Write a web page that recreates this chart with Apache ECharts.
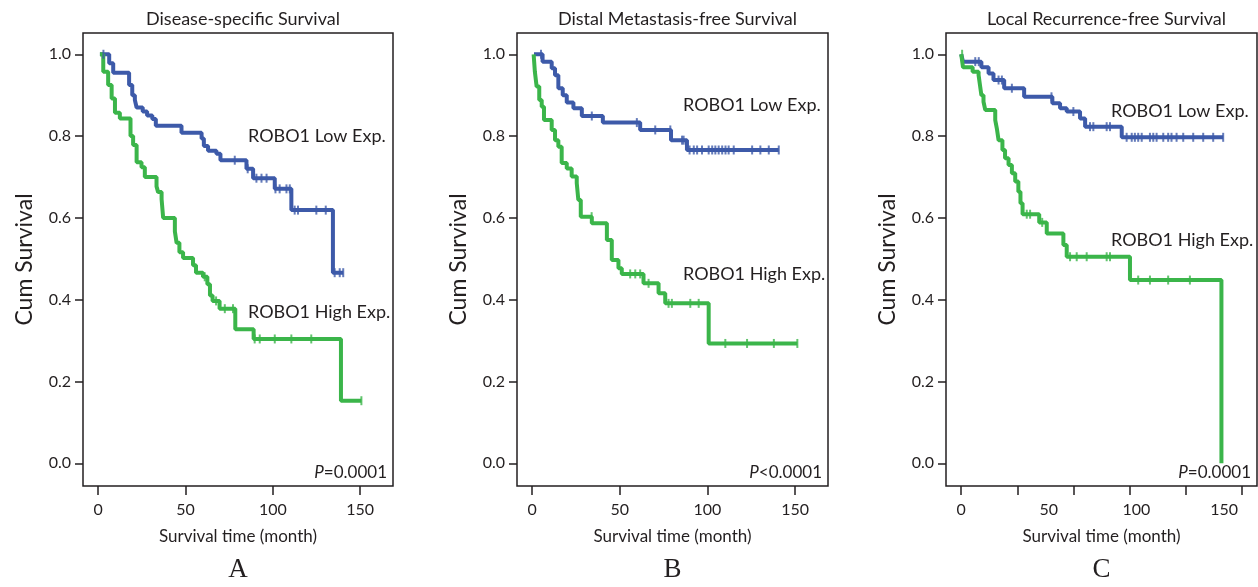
<!DOCTYPE html>
<html>
<head>
<meta charset="utf-8">
<script src="https://cdn.jsdelivr.net/npm/echarts@6/dist/echarts.min.js"></script>
<style>
  html, body { margin: 0; padding: 0; background: #fff; }
  #chart { width: 1258px; height: 587px; }
</style>
</head>
<body>
<div id="chart"></div>
<script>
const blue = '#3d5aa9'
const green = '#3bb54a'
const ink = '#231f20'
const font = 'Lato, "Open Sans", sans-serif'

// A: Disease-specific Survival
const dssLowTime = [1, 6.3, 8.6, 17.7, 19.5, 21, 22, 25.5, 28, 31, 33, 47.7, 59.2, 60.5, 62.9, 67.7, 70, 84.9, 88.7, 101.1, 110.6, 134.4, 140.3]
const dssLowSurv = [1.0, 0.978, 0.955, 0.925, 0.90, 0.888, 0.87, 0.86, 0.85, 0.842, 0.825, 0.808, 0.794, 0.776, 0.764, 0.757, 0.741, 0.72, 0.697, 0.671, 0.619, 0.466, 0.466]
const dssLowCens = [3, 78.2, 85.6, 90.6, 93.5, 96.4, 101.5, 103.9, 107.8, 109.7, 112.5, 114.4, 124.9, 130.3, 135.4, 138.3, 140.3]
const dssHighTime = [1, 2.9, 5.7, 7.7, 9.6, 12.4, 18.5, 20, 22, 24.8, 26.7, 33.4, 34.3, 36.3, 37.2, 43.9, 44.9, 46.5, 48.6, 54.3, 56, 60, 62.5, 64, 65.5, 69.5, 78.5, 89, 139, 150.7]
const dssHighSurv = [1.0, 0.957, 0.925, 0.892, 0.857, 0.843, 0.80, 0.778, 0.736, 0.724, 0.70, 0.677, 0.663, 0.646, 0.600, 0.567, 0.539, 0.516, 0.502, 0.484, 0.466, 0.456, 0.438, 0.41, 0.397, 0.378, 0.328, 0.304, 0.153, 0.153]
const dssHighCens = [61, 67.5, 72.5, 77.2, 89.6, 92.5, 101.1, 110.6, 122, 150.7]

// B: Distal Metastasis-free Survival
const dmfsLowTime = [1, 5.9, 11.1, 13, 14.9, 17.4, 19.7, 23.5, 28.3, 40.3, 61.6, 79.2, 88.3, 140.7]
const dmfsLowSurv = [1.0, 0.982, 0.966, 0.949, 0.917, 0.90, 0.882, 0.868, 0.849, 0.833, 0.815, 0.79, 0.766, 0.766]
const dmfsLowCens = [5, 34, 59.7, 70.2, 78.8, 85.5, 86.4, 89.8, 92.2, 94.1, 96.9, 100.7, 102.7, 104.5, 106.4, 108.4, 110.3, 112.1, 115, 125.5, 130.2, 135, 140.7]
const dmfsHighTime = [0.8, 1.5, 2.5, 4, 5.4, 6.7, 11.1, 13, 14.9, 16.8, 19.7, 22.5, 25.4, 26.3, 27.7, 34, 42.6, 45.4, 49.2, 51.1, 63.5, 72.1, 75.9, 100.7, 151.3]
const dmfsHighSurv = [1.0, 0.957, 0.921, 0.888, 0.872, 0.839, 0.815, 0.79, 0.774, 0.734, 0.721, 0.701, 0.685, 0.644, 0.603, 0.587, 0.546, 0.497, 0.477, 0.463, 0.44, 0.416, 0.391, 0.293, 0.293]
const dmfsHighCens = [33.9, 55.9, 58.8, 61.6, 66.4, 77.8, 79.7, 90.2, 95, 110.2, 122.6, 137.9, 151.3]

// C: Local Recurrence-free Survival
const lrfsLowTime = [0, 1, 11.5, 15.6, 18.4, 24.5, 35.9, 52, 56.4, 60.2, 67.8, 70.7, 91.6, 149.5]
const lrfsLowSurv = [1.0, 0.982, 0.968, 0.953, 0.937, 0.917, 0.896, 0.880, 0.868, 0.860, 0.843, 0.823, 0.797, 0.797]
const lrfsLowCens = [8, 10, 21.3, 23.2, 28.9, 51.5, 64, 73.5, 75.4, 83, 84.9, 94.4, 97.3, 99.1, 101, 103, 107.7, 109.6, 111.5, 115.3, 118.1, 120, 122.9, 126.7, 132.4, 138.1, 143.8, 149.5]
const lrfsHighTime = [0, 1, 6.5, 9.9, 10.8, 11.5, 12.7, 13.7, 19.4, 20.3, 21.3, 23.5, 25, 27, 28.9, 30.8, 32.6, 33.8, 35, 44.5, 48.8, 58.3, 60.2, 96.3, 148.5]
const lrfsHighSurv = [1.0, 0.968, 0.957, 0.949, 0.921, 0.90, 0.884, 0.864, 0.839, 0.819, 0.79, 0.766, 0.746, 0.729, 0.709, 0.689, 0.664, 0.636, 0.609, 0.589, 0.562, 0.534, 0.505, 0.448, 0.0]
const lrfsHighCens = [0.5, 37.4, 39.3, 46.2, 62.1, 65.9, 71.6, 83, 84.9, 101, 107.7, 118.1, 130.5]

// axis ticks / labels
const yTicks = [0, 0.2, 0.4, 0.6, 0.8, 1.0]
const xLabels = [0, 50, 100, 150]
const xTicksC = [0, 32, 64, 96, 128, 160]

const panels = [
    { title: 'Disease-specific Survival', letter: 'A', left: 83, width: 310, p: '=0.0001',
      low: [dssLowTime, dssLowSurv, dssLowCens], high: [dssHighTime, dssHighSurv, dssHighCens],
      lowLbl: [248, 136], highLbl: [248, 312], xTicks: xLabels },
    { title: 'Distal Metastasis-free Survival', letter: 'B', left: 517, width: 311, p: '<0.0001',
      low: [dmfsLowTime, dmfsLowSurv, dmfsLowCens], high: [dmfsHighTime, dmfsHighSurv, dmfsHighCens],
      lowLbl: [683, 105], highLbl: [683, 274], xTicks: xLabels },
    { title: 'Local Recurrence-free Survival', letter: 'C', left: 946, width: 311, p: '=0.0001',
      low: [lrfsLowTime, lrfsLowSurv, lrfsLowCens], high: [lrfsHighTime, lrfsHighSurv, lrfsHighCens],
      lowLbl: [1111, 111], highLbl: [1111, 240], xTicks: xTicksC }
]

// survival value of a step curve at time t (for placing censor marks)
const survAt = (times, survs, t) => {
    let s = survs[0]
    times.forEach((x, i) => { if (x <= t) s = survs[i] })
    return s
}

const gridTop = 33
const gridHeight = 453
const grid = []
const xAxis = []
const yAxis = []
const series = []
const graphic = []
const title = []

const txt = (x, y, text, size, align, extra) => ({
    type: 'text', silent: true,
    style: Object.assign({
        x, y, text, fill: ink, font: size + 'px ' + font,
        align, textAlign: align, verticalAlign: 'middle', textVerticalAlign: 'middle'
    }, extra || {})
})

panels.forEach((p, i) => {
    const cx = p.left + p.width / 2
    grid.push({ left: p.left, top: gridTop, width: p.width, height: gridHeight, show: true, borderColor: ink, borderWidth: 1.5 })
    xAxis.push({
        type: 'value', gridIndex: i, min: -8.7, max: 168.8,
        axisLine: { show: false, onZero: false },
        axisTick: { show: true, length: 9, customValues: p.xTicks, lineStyle: { color: ink, width: 1.5 } },
        axisLabel: { customValues: xLabels, margin: 16, color: ink, fontFamily: font, fontSize: 16 },
        splitLine: { show: false },
        name: 'Survival time (month)', nameLocation: 'middle', nameGap: 42,
        nameTextStyle: { color: ink, fontFamily: font, fontSize: 17 }
    })
    yAxis.push({
        type: 'value', gridIndex: i, min: -0.0555, max: 1.052,
        axisLine: { show: false, onZero: false },
        axisTick: { show: true, length: 8, customValues: yTicks, lineStyle: { color: ink, width: 1.5 } },
        axisLabel: { customValues: yTicks, margin: 12, color: ink, fontFamily: font, fontSize: 16,
            formatter: v => v.toFixed(1) },
        splitLine: { show: false },
        name: 'Cum Survival', nameLocation: 'middle', nameGap: 47, nameRotate: 90,
        nameTextStyle: { color: ink, fontFamily: font, fontSize: 23 }
    })
    title.push({
        text: p.title, left: cx, top: 5, textAlign: 'center',
        textStyle: { color: ink, fontFamily: font, fontSize: 18, fontWeight: 'normal' }
    })
    const curves = [[p.low, blue], [p.high, green]]
    curves.forEach(([c, color]) => {
        const [times, survs, cens] = c
        series.push({
            type: 'line', xAxisIndex: i, yAxisIndex: i, step: 'end', showSymbol: false,
            data: times.map((t, k) => [t, survs[k]]),
            lineStyle: { color, width: 4 }, itemStyle: { color }, z: 2
        })
        series.push({
            type: 'scatter', xAxisIndex: i, yAxisIndex: i, symbol: 'rect', symbolSize: [2, 9],
            data: cens.map(t => [t, survAt(times, survs, t)]),
            itemStyle: { color }, z: 3
        })
    })
    graphic.push(txt(p.lowLbl[0], p.lowLbl[1], 'ROBO1 Low Exp.', 18, 'left'))
    graphic.push(txt(p.highLbl[0], p.highLbl[1], 'ROBO1 High Exp.', 18, 'left'))
    graphic.push(txt(p.left + p.width - 6, 473, '{i|P}' + p.p, 17, 'right', {
        rich: { i: { fontStyle: 'italic', fontFamily: font, fontSize: 17, fill: ink } }
    }))
    graphic.push(txt(cx, 570, p.letter, 27, 'center', { font: '27px "Liberation Serif", serif' }))
})

const chart = echarts.init(document.getElementById('chart'), null, { renderer: 'canvas' })
chart.setOption({
    backgroundColor: '#ffffff',
    animation: false,
    title, grid, xAxis, yAxis, series, graphic
})
</script>
</body>
</html>
